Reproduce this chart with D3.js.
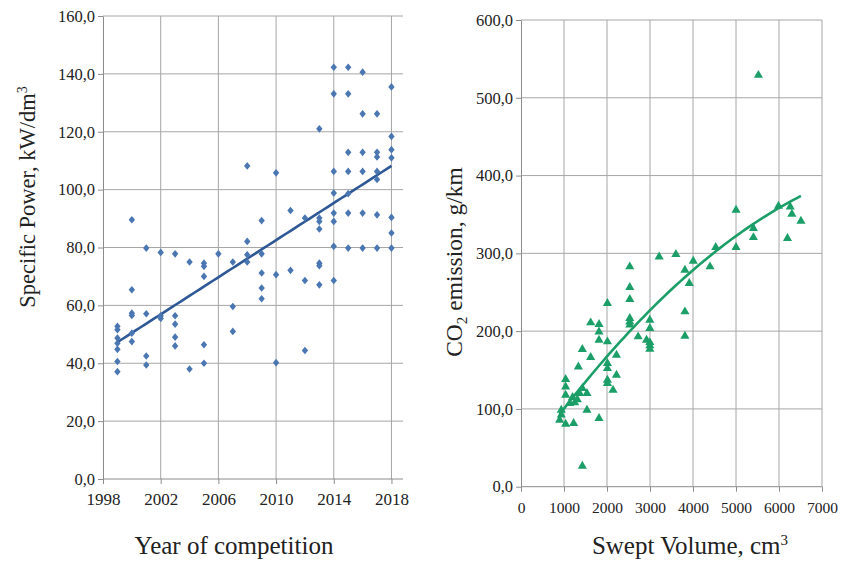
<!DOCTYPE html>
<html>
<head>
<meta charset="utf-8">
<script src="https://cdn.jsdelivr.net/npm/d3@7"></script>
<style>
  body { margin: 0; background: #fff; }
  .grid line { stroke: #a6a6a6; stroke-width: 1; }
  .axis path, .axis line { stroke: #8c8c8c; }
</style>
</head>
<body>
<svg id="chart" width="842" height="561"></svg>
<script>
// left panel: specific power by year
const powerYears = [
  1999, 1999, 1999, 1999, 1999, 1999, 1999,
  2000, 2000, 2000, 2000, 2000, 2000,
  2001, 2001, 2001, 2001,
  2002, 2002, 2002,
  2003, 2003, 2003, 2003, 2003,
  2004, 2004,
  2005, 2005, 2005, 2005, 2005,
  2006,
  2007, 2007, 2007,
  2008, 2008, 2008, 2008,
  2009, 2009, 2009, 2009, 2009,
  2010, 2010, 2010,
  2011, 2011,
  2012, 2012, 2012,
  2013, 2013, 2013, 2013, 2013, 2013, 2013,
  2014, 2014, 2014, 2014, 2014, 2014, 2014, 2014,
  2015, 2015, 2015, 2015, 2015, 2015, 2015,
  2016, 2016, 2016, 2016, 2016, 2016,
  2017, 2017, 2017, 2017, 2017, 2017, 2017,
  2018, 2018, 2018, 2018, 2018, 2018, 2018
];
const powerValues = [
  52.8, 51.6, 48.7, 46.9, 44.8, 40.6, 37.1,
  89.6, 65.4, 57.3, 56.5, 50.4, 47.5,
  79.8, 57.1, 42.5, 39.4,
  78.3, 56.4, 55.5,
  77.8, 56.4, 53.5, 49.0, 46.0,
  75.0, 38.0,
  74.6, 73.5, 70.0, 46.4, 40.0,
  77.8,
  75.0, 59.6, 51.0,
  108.2, 82.1, 77.5, 75.0,
  89.3, 77.8, 71.2, 66.0, 62.3,
  105.8, 70.6, 40.2,
  92.8, 72.1,
  90.2, 68.6, 44.4,
  121.0, 90.2, 89.0, 86.4, 74.6, 73.7, 67.1,
  142.3, 133.1, 106.3, 98.8, 91.9, 89.0, 80.4, 68.6,
  142.3, 133.1, 112.9, 106.3, 98.6, 91.9, 79.8,
  140.6, 126.2, 112.9, 106.3, 91.9, 79.8,
  126.2, 112.9, 111.3, 106.3, 103.5, 91.3, 79.8,
  135.5, 118.4, 113.8, 111.0, 90.4, 85.0, 79.8
];
const yearTicks = [1998, 2002, 2006, 2010, 2014, 2018];
const powerTicks = [0, 20, 40, 60, 80, 100, 120, 140, 160];

// right panel: CO2 emission by swept volume
const sweptVolume = [
  3213, 3602, 4006, 3812, 3913, 3812, 3812,
  2530, 2530, 2530, 2530, 2530, 2530,
  2010, 1620, 1814, 1814, 1814, 2010,
  1427, 1620, 1334, 1038,
  2010, 2010, 2010, 2010, 2220, 2220, 2140,
  2724, 2919, 2996, 2996, 2996, 2996, 2996,
  1038, 1038, 937, 937, 898, 1038, 1224,
  1131, 1248, 1364, 1427, 1534, 1534, 1814, 1427,
  1310, 1200,
  5001, 5988, 6260, 6300, 6510, 6197, 5405, 5405, 5001, 4528, 4395, 5521
];
const co2Values = [
  295.6, 298.7, 290.0, 278.5, 261.4, 225.0, 193.7,
  282.8, 256.3, 240.9, 216.4, 212.0, 208.0,
  235.7, 210.8, 208.7, 199.2, 188.6, 186.4,
  176.6, 166.3, 154.2, 138.0,
  158.6, 152.0, 137.0, 133.0, 169.3, 143.6, 124.3,
  192.8, 188.6, 214.3, 203.6, 185.5, 181.3, 177.0,
  128.5, 117.9, 98.6, 92.2, 85.7, 80.6, 81.5,
  107.2, 108.0, 120.0, 126.5, 120.0, 98.6, 87.9, 26.6,
  112.0, 115.0,
  355.7, 360.8, 359.9, 350.5, 341.5, 319.3, 332.1, 320.5, 307.7, 307.7, 282.8, 529.0
];
const volumeTicks = [0, 1000, 2000, 3000, 4000, 5000, 6000, 7000];
const co2Ticks = [0, 100, 200, 300, 400, 500, 600];

const svg = d3.select("#chart");
const fmt = v => d3.format(".1f")(v).replace(".", ",");
const serif = '"Liberation Serif", "Times New Roman", serif';

// straight-line least squares
function linearFit(xs, ys) {
  const mx = d3.mean(xs), my = d3.mean(ys);
  let sxy = 0, sxx = 0;
  xs.forEach((x, i) => { sxy += (x - mx) * (ys[i] - my); sxx += (x - mx) * (x - mx); });
  const b = sxy / sxx;
  return x => my + b * (x - mx);
}

// 2nd order polynomial least squares (x scaled by 1000 to keep numbers tame)
function polyFit(xs, ys) {
  const s = xs.map(v => v / 1000);
  const S = k => d3.sum(s, v => Math.pow(v, k));
  const T = k => d3.sum(s, (v, i) => Math.pow(v, k) * ys[i]);
  const A = [[S(0), S(1), S(2)], [S(1), S(2), S(3)], [S(2), S(3), S(4)]];
  const B = [T(0), T(1), T(2)];
  for (let i = 0; i < 3; i++) {
    for (let j = i + 1; j < 3; j++) {
      const f = A[j][i] / A[i][i];
      for (let k = i; k < 3; k++) A[j][k] -= f * A[i][k];
      B[j] -= f * B[i];
    }
  }
  const c = [0, 0, 0];
  for (let i = 2; i >= 0; i--) {
    let t = B[i];
    for (let k = i + 1; k < 3; k++) t -= A[i][k] * c[k];
    c[i] = t / A[i][i];
  }
  return x => c[0] + c[1] * (x / 1000) + c[2] * (x / 1000) * (x / 1000);
}

function drawPanel(o) {
  const g = svg.append("g");
  const x = d3.scaleLinear().domain(o.xDomain).range(o.xRange);
  const y = d3.scaleLinear().domain(o.yDomain).range(o.yRange);

  // gridlines
  g.append("g").attr("class", "grid")
    .selectAll("line").data(o.yTicks.slice(1)).join("line")
    .attr("x1", o.xRange[0]).attr("x2", o.xRange[1])
    .attr("y1", d => y(d)).attr("y2", d => y(d));
  g.append("g").attr("class", "grid")
    .selectAll("line").data(o.xTicks.slice(1)).join("line")
    .attr("x1", d => x(d)).attr("x2", d => x(d))
    .attr("y1", o.yRange[0]).attr("y2", o.yRange[1]);

  // axes
  const xAxis = g.append("g").attr("class", "axis")
    .attr("transform", `translate(0,${o.yRange[0]})`)
    .call(d3.axisBottom(x).tickValues(o.xTicks).tickSize(5).tickSizeOuter(0).tickFormat(d3.format("d")));
  xAxis.selectAll("text").attr("font-size", o.xTickSize).attr("dy", o.xTickDy);
  xAxis.select(".domain").attr("d", `M${o.xRange[0]},0H${o.xRange[1]}`);

  const yAxis = g.append("g").attr("class", "axis")
    .attr("transform", `translate(${o.xRange[0]},0)`)
    .call(d3.axisLeft(y).tickValues(o.yTicks).tickSize(5).tickSizeOuter(0).tickFormat(fmt));
  yAxis.selectAll("text").attr("font-size", 16.5).attr("x", -8);

  // trend line
  const xs = d3.extent(o.xs);
  const samples = d3.range(0, 61).map(i => xs[0] + (xs[1] - xs[0]) * i / 60);
  g.append("path")
    .datum(samples)
    .attr("fill", "none")
    .attr("stroke", o.lineColor)
    .attr("stroke-width", 2.6)
    .attr("d", d3.line().x(d => x(d)).y(d => y(o.fit(d))));

  // markers
  g.append("g")
    .selectAll("path").data(o.xs.map((v, i) => [v, o.ys[i]])).join("path")
    .attr("d", d3.symbol().type(o.symbol).size(o.symbolSize))
    .attr("transform", d => `translate(${x(d[0])},${y(d[1])}) scale(${o.symbolScale})`)
    .attr("fill", o.color);

  return g;
}

drawPanel({
  xs: powerYears, ys: powerValues,
  xDomain: [1998, 2018.8], xRange: [103, 403],
  yDomain: [0, 160], yRange: [479, 16],
  xTicks: yearTicks, yTicks: powerTicks, xTickSize: 17, xTickDy: "1.05em",
  symbol: d3.symbolDiamond2, symbolSize: 26, symbolScale: "1,1.2", color: "#4a76b2",
  lineColor: "#2f5896", fit: linearFit(powerYears, powerValues)
});

drawPanel({
  xs: sweptVolume, ys: co2Values,
  xDomain: [0, 7000], xRange: [521, 822],
  yDomain: [0, 600], yRange: [486.7, 20],
  xTicks: volumeTicks, yTicks: co2Ticks, xTickSize: 15.5, xTickDy: "1.2em",
  symbol: d3.symbolTriangle, symbolSize: 36, symbolScale: "1,1", color: "#1b9e67",
  lineColor: "#1b9e67", fit: polyFit(sweptVolume, co2Values)
});

// axis titles
const leftTitle = svg.append("text")
  .attr("transform", "translate(35,197) rotate(-90)")
  .attr("text-anchor", "middle").attr("font-size", 22.5);
leftTitle.append("tspan").text("Specific Power, kW/dm");
leftTitle.append("tspan").attr("font-size", 14).attr("dy", -8).text("3");

const rightTitle = svg.append("text")
  .attr("transform", "translate(462,262) rotate(-90)")
  .attr("text-anchor", "middle").attr("font-size", 23.5);
rightTitle.append("tspan").text("CO");
rightTitle.append("tspan").attr("font-size", 15).attr("dy", 5).text("2");
rightTitle.append("tspan").attr("dy", -5).text(" emission,  g/km");

svg.append("text")
  .attr("x", 234).attr("y", 554)
  .attr("text-anchor", "middle").attr("font-size", 25)
  .text("Year of competition");

const bottomRight = svg.append("text")
  .attr("x", 690).attr("y", 554)
  .attr("text-anchor", "middle").attr("font-size", 25);
bottomRight.append("tspan").text("Swept Volume, cm");
bottomRight.append("tspan").attr("font-size", 15).attr("dy", -9).text("3");

// serif everywhere, set inline so it wins over the axis defaults
svg.selectAll("text").style("font-family", serif).style("fill", "#222");
svg.selectAll(".axis").attr("font-family", null);
</script>
</body>
</html>
